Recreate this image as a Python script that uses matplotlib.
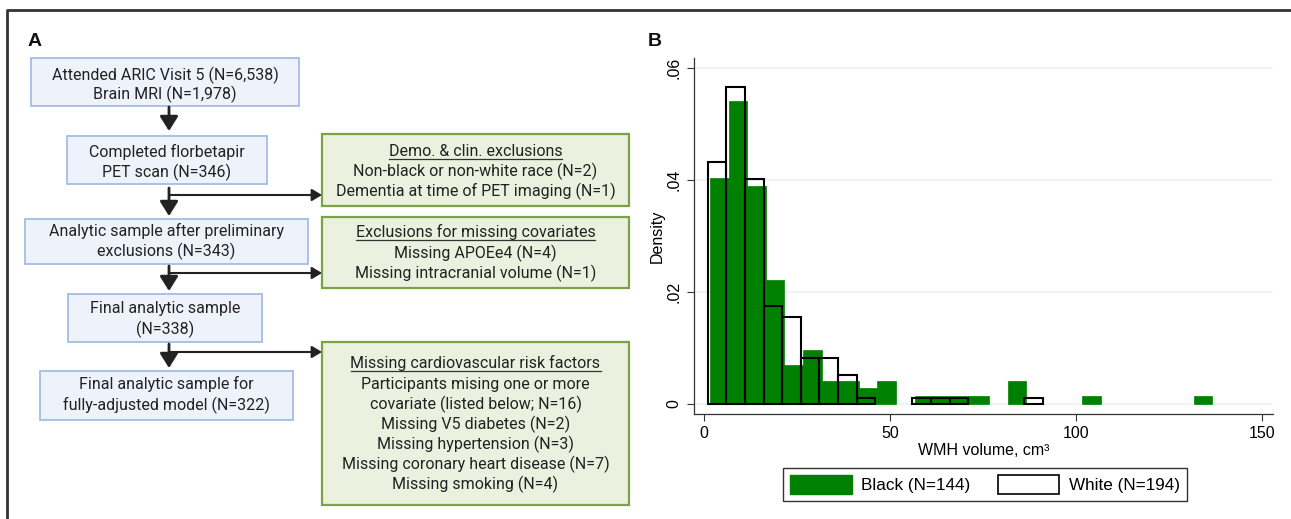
"""
Flowchart (A) + histograma de volumen WMH por raza (B)
"""
import numpy as np
import matplotlib
matplotlib.use('Agg')
import matplotlib.pyplot as plt
from matplotlib.patches import Rectangle, Patch

# ---- datos del histograma ----
bin_width = 5.0
black_start = 1.6
black_counts = [29, 39, 28, 16, 5, 7, 3, 3, 2, 3, 0, 1, 1, 1, 1, 0, 3, 0, 0, 0, 1, 0, 0, 0, 0, 0, 1]
white_start = 1.0
white_counts = [42, 55, 39, 17, 15, 8, 8, 5, 1, 0, 0, 1, 1, 1, 0, 0, 0, 1]
black_label = 'Black (N=144)'
white_label = 'White (N=194)'
y_ticks = [0, 0.02, 0.04, 0.06]
y_ticklabels = ['0', '.02', '.04', '.06']
x_ticks = [0, 50, 100, 150]

# ---- textos del flowchart ----
main_boxes = [
    ['Attended ARIC Visit 5 (N=6,538)', 'Brain MRI (N=1,978)'],
    ['Completed florbetapir', 'PET scan (N=346)'],
    ['Analytic sample after preliminary', 'exclusions (N=343)'],
    ['Final analytic sample', '(N=338)'],
    ['Final analytic sample for', 'fully-adjusted model (N=322)'],
]
side_boxes = [
    ['Demo. & clin. exclusions', 'Non-black or non-white race (N=2)',
     'Dementia at time of PET imaging (N=1)'],
    ['Exclusions for missing covariates', 'Missing APOEe4 (N=4)',
     'Missing intracranial volume (N=1)'],
    ['Missing cardiovascular risk factors', 'Participants mising one or more',
     'covariate (listed below; N=16)', 'Missing V5 diabetes (N=2)',
     'Missing hypertension (N=3)', 'Missing coronary heart disease (N=7)',
     'Missing smoking (N=4)'],
]

W, H = 1291, 519
fig = plt.figure(figsize=(W / 100, H / 100), dpi=100)
bg = fig.add_axes([0, 0, 1, 1])
bg.set_xlim(0, W)
bg.set_ylim(H, 0)
bg.axis('off')

# marco exterior
bg.plot([7, 7, W + 5], [H + 5, 10, 10], color='#333333', lw=2, solid_capstyle='butt')

txt = '#222222'
ff = 'Roboto'

# cajas principales (azul)
main_geom = [(31, 58, 299, 106), (67, 136, 267, 184), (25, 219, 308, 264),
             (68, 294, 262, 342), (40, 371, 293, 420)]
main_lines_y = [(75, 94), (152, 172), (231, 251), (308, 329), (384, 405)]
for (x0, y0, x1, y1), lines, ys in zip(main_geom, main_boxes, main_lines_y):
    bg.add_patch(Rectangle((x0, y0), x1 - x0, y1 - y0, facecolor='#eef3fb',
                           edgecolor='#a4bde3', lw=1.3))
    for s, yy in zip(lines, ys):
        bg.text((x0 + x1) / 2, yy, s, ha='center', va='center', fontsize=11.5,
                family=ff, color=txt)

# cajas laterales (verde)
side_geom = [(322, 134, 629, 206), (322, 217, 629, 288), (322, 342, 629, 505)]
side_lines_y = [[151, 171, 191], [232, 253, 273], [363, 384, 404, 424, 444, 464, 484]]
titles = []
for (x0, y0, x1, y1), lines, ys in zip(side_geom, side_boxes, side_lines_y):
    bg.add_patch(Rectangle((x0, y0), x1 - x0, y1 - y0, facecolor='#ebf1de',
                           edgecolor='#7aa346', lw=1.6))
    for i, (s, yy) in enumerate(zip(lines, ys)):
        t = bg.text((x0 + x1) / 2, yy, s, ha='center', va='center', fontsize=11.5,
                    family=ff, color=txt)
        if i == 0:
            titles.append((t, yy))

# flechas verticales y horizontales
ax_x = 169
for y_start, y_end in [(107, 131), (188, 216), (266, 291), (344, 368)]:
    bg.annotate('', xy=(ax_x, y_end), xytext=(ax_x, y_start),
                arrowprops=dict(arrowstyle='-|>,head_length=0.4,head_width=0.25',
                                color='#222222', lw=2, mutation_scale=22,
                                shrinkA=0, shrinkB=0))
for yy in [195, 273, 352]:
    bg.annotate('', xy=(322, yy), xytext=(ax_x, yy),
                arrowprops=dict(arrowstyle='-|>,head_length=0.5,head_width=0.3',
                                color='#222222', lw=1.5, mutation_scale=12,
                                shrinkA=0, shrinkB=0))

bg.text(35, 42, 'A', fontsize=14, fontweight='bold', family='Liberation Sans',
        ha='center', va='center', color='#111111')
bg.text(655, 41, 'B', fontsize=14, fontweight='bold', family='Liberation Sans',
        ha='center', va='center', color='#111111')

# ---- histograma ----
hf = 'Liberation Sans'
ax = fig.add_axes([694 / W, 1 - 414 / H, (1273 - 694) / W, (414 - 58) / H])
bl = black_start + bin_width * np.arange(len(black_counts))
wl = white_start + bin_width * np.arange(len(white_counts))
bd = np.array(black_counts) / (sum(black_counts) * bin_width)
wd = np.array(white_counts) / (sum(white_counts) * bin_width)
bmask = np.array(black_counts) > 0
ax.bar(bl[bmask], bd[bmask], width=bin_width, align='edge', color='#008000',
       edgecolor='#008000', lw=0.5, zorder=2)
wmask = np.array(white_counts) > 0
ax.bar(wl[wmask], wd[wmask], width=bin_width, align='edge', facecolor='none',
       edgecolor='black', lw=1.5, zorder=3)

ax.set_xlim(-2.7, 152.9)
ax.set_ylim(-0.00179, 0.0618)
ax.set_yticks(y_ticks)
ax.set_yticklabels(y_ticklabels, rotation=90, va='center', family=hf, fontsize=11.5)
ax.set_xticks(x_ticks)
ax.set_xticklabels([str(v) for v in x_ticks], family=hf, fontsize=11.5)
ax.tick_params(length=5, width=0.8, color='#333333', pad=4)
for s in ['top', 'right']:
    ax.spines[s].set_visible(False)
for s in ['left', 'bottom']:
    ax.spines[s].set_color('#333333')
    ax.spines[s].set_linewidth(0.9)
for yv in y_ticks:
    ax.axhline(yv, color='#eaf2f3', lw=1.2, zorder=0)
ax.set_ylabel('Density', family=hf, fontsize=11.5, labelpad=1)
ax.set_xlabel('WMH volume, cm³', family=hf, fontsize=11.5, labelpad=1)

handles = [Patch(facecolor='#008000', edgecolor='#008000'),
           Patch(facecolor='none', edgecolor='black', lw=1.2)]
leg = fig.legend(handles, [black_label, white_label], loc='center',
                 bbox_to_anchor=(985 / W, 1 - 484.5 / H), ncol=2, frameon=True,
                 fancybox=False, edgecolor='#333333', framealpha=1,
                 prop={'family': hf, 'size': 12.3}, handlelength=3.6,
                 handleheight=1.25, columnspacing=1.6, borderpad=0.45, handletextpad=0.55)
leg.get_frame().set_linewidth(1.0)

# subrayado de los títulos verdes
fig.canvas.draw()
inv = bg.transData.inverted()
for t, yy in titles:
    bb = t.get_window_extent()
    (xa, _), (xb, _) = inv.transform([[bb.x0, bb.y0], [bb.x1, bb.y1]])
    bg.plot([xa, xb], [yy + 8, yy + 8], color='#333333', lw=0.9)

fig.savefig('out.png', dpi=100)
